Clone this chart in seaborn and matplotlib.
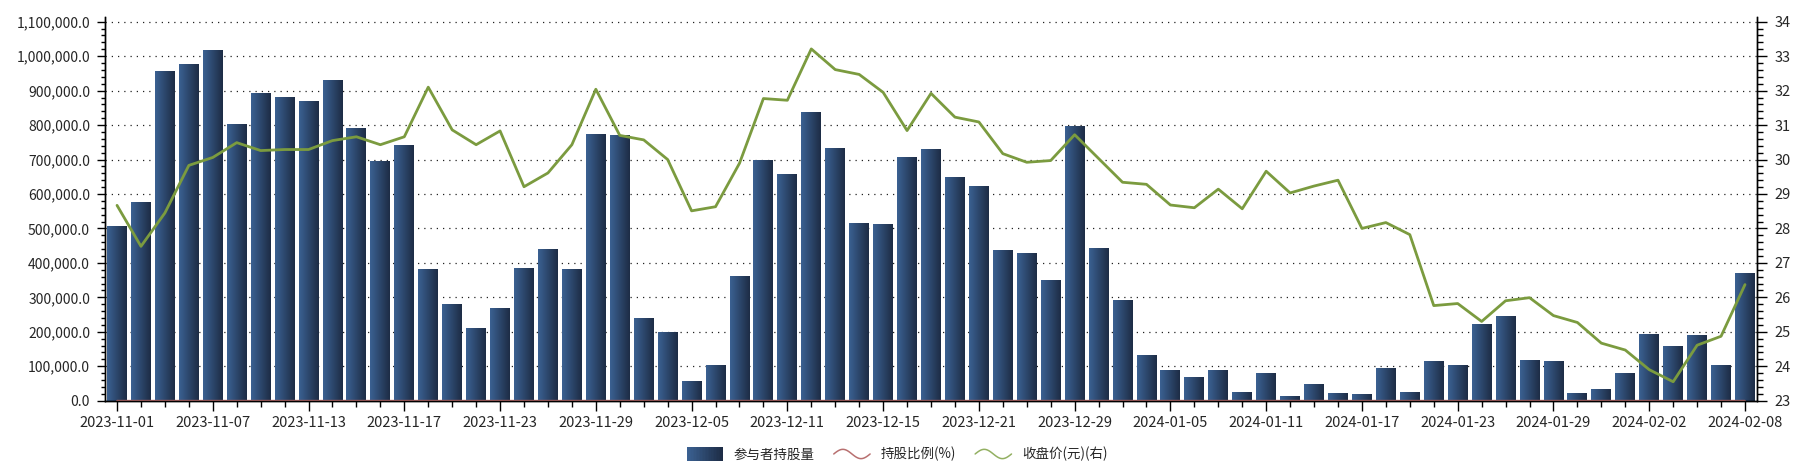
import numpy as np
import pandas as pd
import seaborn as sns
import matplotlib.pyplot as plt
from matplotlib.colors import LinearSegmentedColormap
from matplotlib.legend_handler import HandlerBase
from matplotlib.lines import Line2D
from matplotlib.patches import Rectangle
from matplotlib.ticker import MultipleLocator, FuncFormatter

# ---- data ----
dates = [
    '2023-11-01', '2023-11-02', '2023-11-03', '2023-11-06', '2023-11-07', '2023-11-08', '2023-11-09',
    '2023-11-10', '2023-11-13', '2023-11-14', '2023-11-15', '2023-11-16', '2023-11-17', '2023-11-20',
    '2023-11-21', '2023-11-22', '2023-11-23', '2023-11-24', '2023-11-27', '2023-11-28', '2023-11-29',
    '2023-11-30', '2023-12-01', '2023-12-04', '2023-12-05', '2023-12-06', '2023-12-07', '2023-12-08',
    '2023-12-11', '2023-12-12', '2023-12-13', '2023-12-14', '2023-12-15', '2023-12-18', '2023-12-19',
    '2023-12-20', '2023-12-21', '2023-12-22', '2023-12-27', '2023-12-28', '2023-12-29', '2024-01-02',
    '2024-01-03', '2024-01-04', '2024-01-05', '2024-01-08', '2024-01-09', '2024-01-10', '2024-01-11',
    '2024-01-12', '2024-01-15', '2024-01-16', '2024-01-17', '2024-01-18', '2024-01-19', '2024-01-22',
    '2024-01-23', '2024-01-24', '2024-01-25', '2024-01-26', '2024-01-29', '2024-01-30', '2024-01-31',
    '2024-02-01', '2024-02-02', '2024-02-05', '2024-02-06', '2024-02-07', '2024-02-08',
]

# 参与者持股量 (股)
holding = [
    507000, 576000, 955000, 978000, 1018000, 803000, 892000, 880000, 869000, 929000,
    791000, 694000, 743000, 381000, 280000, 211000, 269000, 384000, 441000, 381000,
    774000, 771000, 240000, 200000, 56000, 102000, 361000, 697000, 656000, 837000,
    734000, 516000, 513000, 708000, 731000, 648000, 622000, 438000, 427000, 349000,
    797000, 444000, 292000, 131000, 88000, 68000, 88000, 25000, 79000, 13000,
    48000, 22000, 19000, 94000, 25000, 114000, 102000, 223000, 246000, 117000,
    114000, 22000, 33000, 79000, 194000, 157000, 189000, 102000, 369000,
]

# 持股比例(%) -- tiny next to the share counts, so it sits on the zero line
ratio = [
    0.51, 0.58, 0.96, 0.98, 1.02, 0.81, 0.90, 0.89, 0.87, 0.93,
    0.79, 0.70, 0.75, 0.38, 0.28, 0.21, 0.27, 0.39, 0.44, 0.38,
    0.78, 0.77, 0.24, 0.20, 0.06, 0.10, 0.36, 0.70, 0.66, 0.84,
    0.74, 0.52, 0.52, 0.71, 0.73, 0.65, 0.62, 0.44, 0.43, 0.35,
    0.80, 0.45, 0.29, 0.13, 0.09, 0.07, 0.09, 0.03, 0.08, 0.01,
    0.05, 0.02, 0.02, 0.09, 0.03, 0.11, 0.10, 0.22, 0.25, 0.12,
    0.11, 0.02, 0.03, 0.08, 0.19, 0.16, 0.19, 0.10, 0.37,
]

# 收盘价(元)
price = [
    28.67, 27.48, 28.45, 29.83, 30.06, 30.49, 30.26, 30.29, 30.29, 30.55,
    30.66, 30.43, 30.66, 32.10, 30.86, 30.43, 30.83, 29.21, 29.61, 30.43,
    32.04, 30.70, 30.57, 30.00, 28.51, 28.63, 29.89, 31.77, 31.72, 33.21,
    32.61, 32.47, 31.95, 30.84, 31.92, 31.23, 31.09, 30.17, 29.92, 29.97,
    30.72, 30.03, 29.34, 29.28, 28.68, 28.60, 29.14, 28.57, 29.66, 29.03,
    29.23, 29.40, 28.00, 28.17, 27.82, 25.76, 25.82, 25.30, 25.90, 25.99,
    25.47, 25.27, 24.67, 24.47, 23.90, 23.55, 24.61, 24.87, 26.37,
]

labels = ['参与者持股量', '持股比例(%)', '收盘价(元)(右)']

df = pd.DataFrame({'date': dates, 'holding': holding, 'ratio': ratio, 'price': price})
df['pos'] = np.arange(len(df))

sns.set_theme(style='white')
plt.rcParams['font.family'] = ['Noto Sans CJK SC', 'DejaVu Sans']

bar_cmap = LinearSegmentedColormap.from_list('bar', ['#3b6192', '#1d2c45'])
text_col = '#262626'


class GradHandler(HandlerBase):
    def create_artists(self, legend, orig_handle, xdescent, ydescent, width, height, fontsize, trans):
        n = 24
        out = []
        for i in range(n):
            r = Rectangle((-xdescent + width * i / n, -ydescent - 1), width / n * 1.1, height + 2,
                          facecolor=bar_cmap(i / (n - 1)), edgecolor='none', transform=trans)
            out.append(r)
        return out


class WaveHandler(HandlerBase):
    def create_artists(self, legend, orig_handle, xdescent, ydescent, width, height, fontsize, trans):
        t = np.linspace(0, 1, 60)
        ys = 0.5 + 0.45 * np.sin(2 * np.pi * t)
        ln = Line2D(-xdescent + t * width, -ydescent + ys * height, color=orig_handle.get_color(),
                    lw=1.1, transform=trans)
        return [ln]


fig = plt.figure(figsize=(18.09, 4.67), dpi=100)
ax = fig.add_axes([0.0582, 0.142, 0.9129, 0.8211])

sns.barplot(data=df, x='date', y='holding', color='#2b4468', saturation=1, width=0.83, ax=ax)

# horizontal gradient on each bar
grad = np.linspace(0, 1, 64).reshape(1, -1)
for p in list(ax.patches):
    x0, w, h = p.get_x(), p.get_width(), p.get_height()
    ax.imshow(grad, cmap=bar_cmap, extent=[x0, x0 + w, 0, h], aspect='auto',
              interpolation='bilinear', zorder=2)
    p.set_visible(False)

sns.lineplot(data=df, x='pos', y='ratio', ax=ax, color='#b06464', lw=1.2, legend=False, zorder=3)

ax.set_xlim(-0.49, 68.49)
ax.set_ylim(0, 1113000)
ax.set_xlabel('')
ax.set_ylabel('')
ax.set_xticks(df['pos'][::4])
ax.set_xticklabels(df['date'][::4])
ax.xaxis.set_minor_locator(MultipleLocator(1))
ax.yaxis.set_major_locator(MultipleLocator(100000))
ax.yaxis.set_minor_locator(MultipleLocator(20000))
ax.yaxis.set_major_formatter(FuncFormatter(lambda v, _: f'{v:,.1f}'))
ax.set_axisbelow(True)
ax.yaxis.grid(True, which='major', linestyle=(0, (1, 4)), color='#222222', lw=0.9)
ax.xaxis.grid(False)

ax.tick_params(axis='x', which='major', bottom=True, direction='out', length=7, width=1,
               color='black', labelsize=10.5, labelcolor=text_col, pad=4)
ax.tick_params(axis='x', which='minor', bottom=True, direction='out', length=4, width=1, color='black')
ax.tick_params(axis='y', which='major', left=True, direction='out', length=6, width=1,
               color='black', labelsize=10, labelcolor=text_col, pad=5)
ax.tick_params(axis='y', which='minor', left=True, direction='out', length=3, width=1, color='black')

ax2 = ax.twinx()
sns.lineplot(data=df, x='pos', y='price', ax=ax2, color='#7b9b3f', lw=2, legend=False)
ax2.set_xlim(-0.49, 68.49)
ax2.set_ylim(23, 34.13)
ax2.set_ylabel('')
ax2.yaxis.set_major_locator(MultipleLocator(1))
ax2.yaxis.set_minor_locator(MultipleLocator(0.2))
ax2.grid(False)
ax2.tick_params(axis='y', which='major', right=True, direction='out', length=7, width=1,
                color='black', labelsize=10.5, labelcolor=text_col, pad=6)
ax2.tick_params(axis='y', which='minor', right=True, direction='out', length=4, width=1, color='black')

for a in (ax, ax2):
    a.spines['top'].set_visible(False)
    for s in ('left', 'right', 'bottom'):
        a.spines[s].set_color('black')
        a.spines[s].set_linewidth(1)

handles = [Rectangle((0, 0), 1, 1), Line2D([], [], color='#b87070'), Line2D([], [], color='#93b062')]
fig.legend(handles, labels, handler_map={Rectangle: GradHandler(), Line2D: WaveHandler()},
           loc='center', bbox_to_anchor=(0.496, 0.027), ncol=3, frameon=False,
           fontsize=9.7, handlelength=2.7, handleheight=0.8, handletextpad=0.8, columnspacing=1.4,
           labelcolor=text_col)

fig.savefig('out.png', dpi=100)
